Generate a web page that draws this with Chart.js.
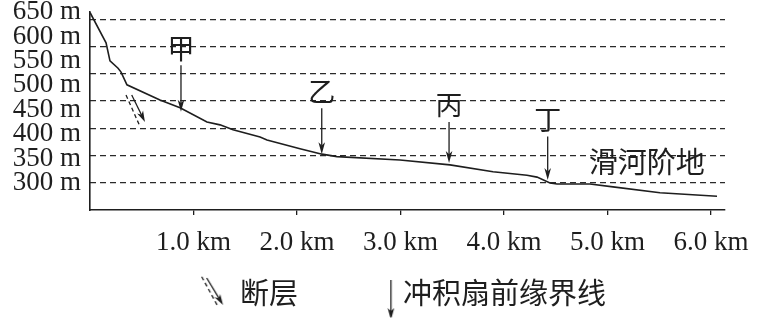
<!DOCTYPE html>
<html>
<head>
<meta charset="utf-8">
<script src="https://cdn.jsdelivr.net/npm/chart.js@4.4.0/dist/chart.umd.min.js"></script>
<style>
html,body{margin:0;padding:0;background:#fff;}
#wrap{width:764px;height:322px;}
</style>
</head>
<body>
<div id="wrap"><canvas id="c" width="764" height="322"></canvas></div>
<script>
// ---------- data ----------
const distanceKm = [0, 0.155, 0.193, 0.271, 0.300, 0.357, 0.676, 0.870, 1.130, 1.256, 1.382, 1.643, 1.710, 2.029, 2.242, 2.386, 2.995, 3.478, 3.894, 4.222, 4.319, 4.444, 4.512, 4.831, 5.053, 5.507, 6.058];
const elevationM = [649, 587, 550, 535, 527, 501, 470, 454, 425, 419, 409, 394, 388, 370, 359, 354, 347, 337, 323, 316, 312, 300, 298, 298, 292, 280, 273];

const xTickValues = [1, 2, 3, 4, 5, 6];
const xTickLabels = ['1.0 km', '2.0 km', '3.0 km', '4.0 km', '5.0 km', '6.0 km'];
const yTickValues = [300, 350, 400, 450, 500, 550, 600, 650];
const yTickLabels = ['300 m', '350 m', '400 m', '450 m', '500 m', '550 m', '600 m', '650 m'];
const gridValues = [300, 350, 400, 450, 500, 550, 600];

// alluvial-fan front markers
const markerLabels = ['甲', '乙', '丙', '丁'];
const markerKm = [0.879, 2.239, 3.469, 4.422];
const markerTailElev = [541, 453, 425, 395];
const markerTipElev = [446, 359, 341, 306];

// fault symbol
const faultArrowKm = [0.403, 0.531];
const faultArrowElev = [480, 425];
const faultDashKm = [0.348, 0.476];
const faultDashElev = [480, 419];

// terrace label
const terraceText = '滑河阶地';
const terraceKm = 5.38;
const terraceElev = 342;

// legend
const legendTexts = ['断层', '冲积扇前缘界线'];

// ---------- helpers ----------
const INK = '#1e1e1e';
function drawArrow(ctx, x1, y1, x2, y2, head, half) {
  const ang = Math.atan2(y2 - y1, x2 - x1);
  ctx.beginPath();
  ctx.moveTo(x1, y1);
  ctx.lineTo(x2 - Math.cos(ang) * head * 0.7, y2 - Math.sin(ang) * head * 0.7);
  ctx.stroke();
  ctx.save();
  ctx.translate(x2, y2);
  ctx.rotate(ang);
  ctx.beginPath();
  ctx.moveTo(0, 0);
  ctx.lineTo(-head, -half);
  ctx.lineTo(-head * 0.72, 0);
  ctx.lineTo(-head, half);
  ctx.closePath();
  ctx.fill();
  ctx.restore();
}

function makeFaultIcon() {
  const c = document.createElement('canvas');
  c.width = 80; c.height = 60;
  const g = c.getContext('2d');
  g.strokeStyle = INK; g.fillStyle = INK; g.lineWidth = 1.3;
  g.setLineDash([4, 3]);
  g.beginPath(); g.moveTo(56.5, 13.7); g.lineTo(72.8, 43.7); g.stroke();
  g.setLineDash([]);
  drawArrow(g, 61.5, 15, 77.8, 42, 11, 3.3);
  return c;
}
function makeFrontIcon() {
  const c = document.createElement('canvas');
  c.width = 100; c.height = 60;
  const g = c.getContext('2d');
  g.strokeStyle = INK; g.fillStyle = INK; g.lineWidth = 1.3;
  drawArrow(g, 92.7, 17, 92.7, 57, 12, 3.3);
  return c;
}
const legendIcons = [makeFaultIcon(), makeFrontIcon()];

const annotationPlugin = {
  id: 'annotations',
  afterDatasetsDraw(chart) {
    const { ctx } = chart;
    const x = chart.scales.x, y = chart.scales.y;
    ctx.save();
    ctx.strokeStyle = INK; ctx.fillStyle = INK; ctx.lineWidth = 1.3;
    // markers
    ctx.font = '27px "Noto Sans CJK SC"';
    ctx.textAlign = 'center';
    ctx.textBaseline = 'middle';
    markerLabels.forEach((lab, i) => {
      const px = x.getPixelForValue(markerKm[i]);
      const top = y.getPixelForValue(markerTailElev[i]);
      const tip = y.getPixelForValue(markerTipElev[i]);
      drawArrow(ctx, px, top, px, tip, 12, 3.3);
      ctx.fillText(lab, px, top - 17);
    });
    // fault
    ctx.setLineDash([4, 3]);
    ctx.beginPath();
    ctx.moveTo(x.getPixelForValue(faultDashKm[0]), y.getPixelForValue(faultDashElev[0]));
    ctx.lineTo(x.getPixelForValue(faultDashKm[1]), y.getPixelForValue(faultDashElev[1]));
    ctx.stroke();
    ctx.setLineDash([]);
    drawArrow(ctx,
      x.getPixelForValue(faultArrowKm[0]), y.getPixelForValue(faultArrowElev[0]),
      x.getPixelForValue(faultArrowKm[1]), y.getPixelForValue(faultArrowElev[1]), 11, 3.3);
    // terrace label
    ctx.font = '29px "Noto Sans CJK SC"';
    ctx.fillText(terraceText, x.getPixelForValue(terraceKm), y.getPixelForValue(terraceElev));
    ctx.restore();
  }
};

const serif = '"Liberation Serif", "Times New Roman", serif';

new Chart(document.getElementById('c'), {
  type: 'line',
  data: {
    datasets: [{
      label: 'profile',
      data: distanceKm.map((d, i) => ({ x: d, y: elevationM[i] })),
      borderColor: INK,
      borderWidth: 1.6,
      pointRadius: 0,
      tension: 0,
      fill: false,
      yAxisID: 'y'
    }]
  },
  options: {
    responsive: false,
    animation: false,
    events: [],
    layout: { padding: { left: 0, right: 13, top: 12, bottom: 4.5 } },
    scales: {
      x: {
        type: 'linear',
        min: 0,
        max: 6.135,
        afterBuildTicks: (axis) => { axis.ticks = xTickValues.map(v => ({ value: v })); },
        afterFit: (axis) => { axis.height = 58.5; },
        ticks: {
          autoSkip: false,
          maxRotation: 0,
          padding: 14,
          color: INK,
          font: { family: serif, size: 27, lineHeight: 1 },
          callback: (v) => xTickLabels[xTickValues.indexOf(v)]
        },
        grid: { drawOnChartArea: false, drawTicks: true, tickLength: 5, color: INK, lineWidth: 1.3 },
        border: { display: true, color: INK, width: 1.6 }
      },
      y: {
        type: 'linear',
        position: 'left',
        min: 244.7,
        max: 650,
        afterBuildTicks: (axis) => { axis.ticks = yTickValues.map(v => ({ value: v })); },
        afterFit: (axis) => { axis.width = 90; },
        ticks: {
          autoSkip: false,
          padding: 9,
          color: INK,
          font: { family: serif, size: 27, lineHeight: 0.1 },
          callback: (v) => yTickLabels[yTickValues.indexOf(v)]
        },
        grid: { display: false, drawTicks: false },
        border: { display: true, color: INK, width: 1.6 }
      },
      yGrid: {
        type: 'linear',
        position: 'right',
        min: 250,
        max: 613.4,
        afterBuildTicks: (axis) => { axis.ticks = gridValues.map(v => ({ value: v })); },
        afterFit: (axis) => { axis.width = 26; },
        ticks: { display: false },
        grid: { drawTicks: false, color: '#2a2a2a', lineWidth: 1.2 },
        border: { display: false, dash: [6, 4] }
      }
    },
    plugins: {
      tooltip: { enabled: false },
      legend: {
        display: true,
        position: 'bottom',
        onClick: null,
        labels: {
          usePointStyle: true,
          pointStyleWidth: 80.5,
          padding: 10,
          color: INK,
          font: { family: '"Noto Sans CJK SC"', size: 29 },
          generateLabels: () => legendTexts.map((t, i) => ({
            text: t,
            pointStyle: legendIcons[i],
            fillStyle: 'rgba(0,0,0,0)',
            strokeStyle: 'rgba(0,0,0,0)',
            lineWidth: 0,
            hidden: false,
            fontColor: INK
          }))
        }
      }
    }
  },
  plugins: [annotationPlugin]
});
</script>
</body>
</html>
